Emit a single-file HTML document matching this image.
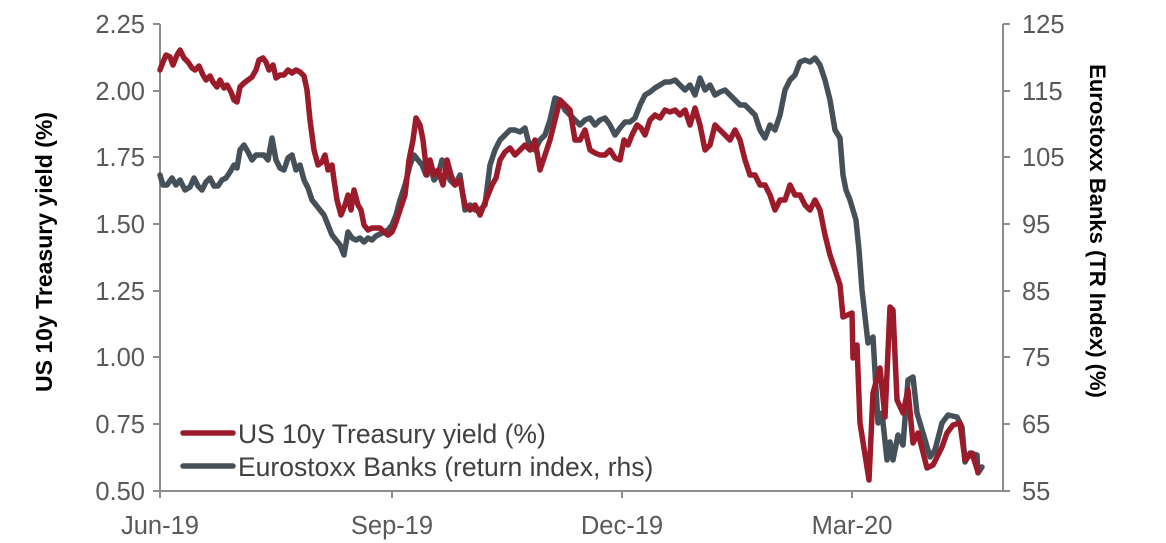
<!DOCTYPE html>
<html><head><meta charset="utf-8"><style>
html,body{margin:0;padding:0;background:#fff;}
svg{display:block;font-family:"Liberation Sans",Arial,sans-serif;}
</style></head><body>
<svg width="1166" height="543" viewBox="0 0 1166 543" xmlns="http://www.w3.org/2000/svg">
<g stroke="#8c8c8c" stroke-width="2" fill="none">
<line x1="160" y1="24" x2="160" y2="491"/>
<line x1="1003" y1="24" x2="1003" y2="491"/>
<line x1="160" y1="491" x2="1003" y2="491"/>
<path d="M153 24H160M153 91H160M153 157H160M153 224H160M153 291H160M153 357H160M153 424H160M153 491H160"/>
<path d="M1003 24H1010M1003 91H1010M1003 157H1010M1003 224H1010M1003 291H1010M1003 357H1010M1003 424H1010M1003 491H1010"/>
<path d="M160 491V498M392 491V498M622 491V498M852 491V498"/>
</g>
<g fill="#595959" font-size="25.5" text-anchor="end">
<text x="145" y="33">2.25</text><text x="145" y="100">2.00</text><text x="145" y="166">1.75</text><text x="145" y="233">1.50</text><text x="145" y="300">1.25</text><text x="145" y="366">1.00</text><text x="145" y="433">0.75</text><text x="145" y="500">0.50</text>
</g>
<g fill="#595959" font-size="25.5">
<text x="1022" y="33">125</text><text x="1022" y="100">115</text><text x="1022" y="166">105</text><text x="1022" y="233">95</text><text x="1022" y="300">85</text><text x="1022" y="366">75</text><text x="1022" y="433">65</text><text x="1022" y="500">55</text>
</g>
<g fill="#595959" font-size="25.5" text-anchor="middle">
<text x="160" y="534">Jun-19</text><text x="392" y="534">Sep-19</text><text x="622" y="534">Dec-19</text><text x="852" y="534">Mar-20</text>
</g>
<text transform="translate(52,252) rotate(-90)" text-anchor="middle" font-size="23" font-weight="bold" fill="#000">US 10y Treasury yield (%)</text>
<text transform="translate(1090,231) rotate(90)" text-anchor="middle" font-size="22" font-weight="bold" fill="#000">Eurostoxx Banks (TR Index) (%)</text>
<g fill="none" stroke-width="5.5" stroke-linejoin="round" stroke-linecap="round">
<polyline stroke="#465058" points="160,175 163,185 167,185 172,178 176,185 180,180 185,190 190,187 194,178 198,186 202,190 206,182 210,178 214,186 218,186 222,180 226,178 230,172 234,165 237,168 240,150 244,145 248,152 252,160 256,155 260,155 264,155 268,160 272,138 276,160 280,168 284,170 288,158 292,155 296,170 300,165 304,180 308,188 312,200 316,205 320,210 324,215 328,225 332,235 336,240 340,245 344,255 348,232 352,238 356,240 360,238 364,242 368,238 372,240 376,236 380,234 384,232 388,230 392,225 396,215 400,200 405,185 410,165 414,155 418,160 422,165 426,175 430,165 434,180 438,175 442,160 446,165 450,180 455,185 460,175 465,210 470,205 475,210 480,210 485,205 490,165 495,150 500,140 505,135 510,130 515,130 520,132 525,128 530,148 535,150 540,140 545,135 550,120 555,98 560,100 565,110 570,115 575,120 580,125 585,120 590,118 595,125 600,120 605,118 610,125 615,135 620,128 625,122 630,122 635,118 640,105 645,95 650,92 655,88 660,85 665,82 670,82 675,80 680,85 685,90 690,85 695,95 700,78 705,90 710,85 715,95 720,92 725,90 730,95 735,100 740,105 745,105 750,110 755,115 760,130 765,138 770,125 775,130 780,115 785,90 790,80 795,75 800,62 805,60 810,62 815,58 820,65 825,80 830,100 835,130 840,138 843,175 846,190 850,200 853,210 856,220 859,250 862,290 868,343 873,337 878,423 882,413 887,460 890,442 893,460 898,435 903,445 908,380 913,377 917,413 923,433 930,457 935,450 942,423 948,415 957,417 962,427 965,462 970,453 977,455 978,473 982,467"/>
<polyline stroke="#9b1b2a" points="160,70 163,62 166,55 170,57 173,65 177,55 180,50 184,58 188,62 192,68 195,70 199,66 203,75 206,80 210,76 213,82 217,87 220,80 224,88 227,85 231,92 234,100 237,102 240,87 244,83 248,80 252,77 256,70 259,60 263,58 266,62 269,70 273,65 276,78 280,75 284,75 288,70 292,73 296,70 300,72 304,76 307,90 310,120 314,150 318,165 322,162 325,155 328,170 332,165 334,180 337,200 341,215 345,205 348,195 351,210 354,190 358,205 361,210 364,225 368,230 372,228 376,228 380,228 384,232 388,235 392,232 395,225 400,210 405,195 409,160 413,140 416,118 420,125 423,140 427,175 430,160 434,175 438,170 443,185 447,160 451,175 455,185 460,180 465,205 470,210 475,205 480,215 484,205 488,195 492,185 496,178 500,160 505,152 510,148 515,155 520,150 525,145 530,150 535,140 540,170 545,155 550,140 555,120 560,100 565,105 570,110 575,140 580,140 585,130 590,150 595,153 600,155 605,155 610,150 615,158 620,160 624,140 628,145 632,135 637,125 641,128 645,135 650,120 655,115 660,118 665,110 670,112 675,110 680,115 685,110 690,125 695,108 700,125 705,150 710,145 715,125 720,130 725,135 730,140 735,130 740,140 745,160 750,175 755,175 760,185 765,185 770,195 775,210 780,200 785,200 790,185 795,195 800,195 805,205 810,210 815,200 820,210 825,235 830,255 835,270 840,285 843,317 852,313 853,358 857,345 860,423 869,480 873,393 880,368 885,417 890,307 893,310 897,400 903,413 908,390 913,443 918,433 927,468 933,465 942,447 947,433 953,425 960,423 965,460 972,453 978,472"/>
<line x1="183" y1="433" x2="233" y2="433" stroke="#9b1b2a"/>
<line x1="183" y1="466" x2="233" y2="466" stroke="#465058"/>
</g>
<g fill="#404040" font-size="26.5">
<text x="238" y="443">US 10y Treasury yield (%)</text>
<text x="238" y="476">Eurostoxx Banks (return index, rhs)</text>
</g>
</svg>
</body></html>
